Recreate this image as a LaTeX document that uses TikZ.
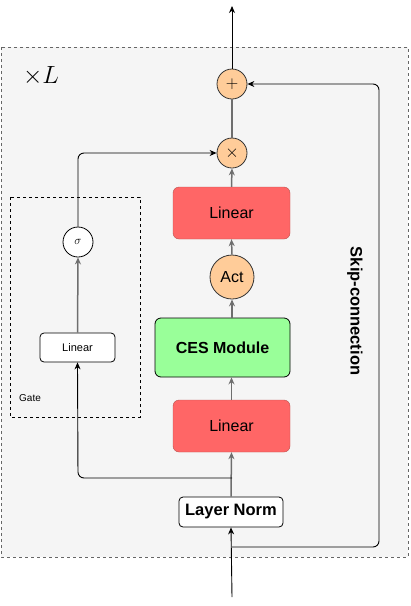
\documentclass[tikz,border=0pt]{standalone}
\usepackage{fontspec}
\setmainfont{Liberation Sans}
\usetikzlibrary{arrows.meta,positioning}
\definecolor{bgfill}{HTML}{F5F5F5}
\definecolor{bgline}{HTML}{666666}
\definecolor{opfill}{HTML}{FFCC99}
\definecolor{redfill}{HTML}{FF6666}
\definecolor{redline}{HTML}{B85450}
\definecolor{greenfill}{HTML}{99FF99}
\definecolor{mainline}{HTML}{6E6E6E}
\tikzset{
  opnode/.style={circle, draw=black!80, line width=0.8pt, fill=opfill, inner sep=0pt, minimum size=30pt},
  redbox/.style={rectangle, rounded corners=6pt, draw=redline, fill=redfill, minimum width=117pt, minimum height=52pt, font=\fontsize{16}{18}\selectfont},
  greenbox/.style={rectangle, rounded corners=6pt, draw=black, line width=0.8pt, fill=greenfill, minimum width=135pt, minimum height=59pt, font=\fontsize{16}{18}\selectfont\bfseries},
  whitebox/.style={rectangle, rounded corners=4pt, draw=black, line width=0.8pt, fill=white, inner sep=0pt},
  mainarr/.style={draw=mainline, line width=1.5pt, -{Stealth[length=7pt,width=6pt]}},
  mainln/.style={draw=mainline, line width=1.5pt},
  thinarr/.style={draw=black, line width=0.9pt, rounded corners=6pt, -{Stealth[length=7pt,width=6pt]}},
}
\begin{document}
\begin{tikzpicture}[x=1pt,y=-1pt]
\useasboundingbox (0,0) rectangle (411,606);
% outer block
\draw[draw=bgline, fill=bgfill, dashed, line width=0.6pt] (1,47) rectangle (408,557);
\node (xl) at (41,76) {\fontsize{27}{29}\selectfont$\times L$};
% gate box
\draw[dashed, line width=0.8pt] (10,197) rectangle (140,417);
\node (gatelbl) at (30,398) {\fontsize{10}{12}\selectfont Gate};
% nodes
\node[opnode] (plus) at (232,84) {\fontsize{17}{17}\selectfont$+$};
\node[opnode] (times) at (232,153) {\fontsize{17}{17}\selectfont$\times$};
\node[redbox] (lin2) at (231.5,213) {Linear};
\node[opnode, minimum size=44pt] (act) at (232,277) {\fontsize{16}{18}\selectfont Act};
\node[greenbox] (ces) at (222.5,347.5) {CES Module};
\node[redbox] (lin1) at (231.5,426) {Linear};
\node[whitebox, minimum width=104pt, minimum height=30pt, font=\fontsize{16.5}{18}\selectfont\bfseries] (ln) at (231,512) {Layer Norm};
\node[whitebox, minimum width=75pt, minimum height=29pt, font=\fontsize{11}{13}\selectfont] (glin) at (77.5,347.5) {Linear};
\node[circle, draw=black, line width=0.8pt, fill=white, minimum size=30pt, inner sep=0pt] (sig) at (78,242) {\fontsize{12}{14}\selectfont$\sigma$};
\node[rotate=-90, font=\fontsize{16.5}{18}\selectfont\bfseries] (skiplbl) at (355,311) {Skip-connection};
% coordinates
\coordinate (top) at (232,6);
\coordinate (bot) at (232,597);
\coordinate (split) at (232,478);
\coordinate (skipstart) at (232,547);
% main path
\draw[thinarr] (bot) -- (ln.south);
\draw[mainarr] (ln.north) -- (lin1.south);
\draw[mainarr] (lin1.north) -- (lin1.north |- ces.south);
\draw[mainarr] (act.south |- ces.north) -- (act.south);
\draw[mainarr] (act.north) -- (lin2.south);
\draw[mainarr] (lin2.north) -- (times.south);
\draw[mainln] (times.north) -- (plus.south);
\draw[thinarr] (plus.north) -- (top);
% skip connection
\draw[thinarr] (skipstart) -- (379,547) -- (379,84) -- (plus.east);
% gate path
\draw[thinarr] (split) -- (78,478) -- (glin.south);
\draw[mainarr] (glin.north) -- (sig.south);
\draw[thinarr] (sig.north) -- (78,153) -- (times.west);
\end{tikzpicture}
\end{document}
